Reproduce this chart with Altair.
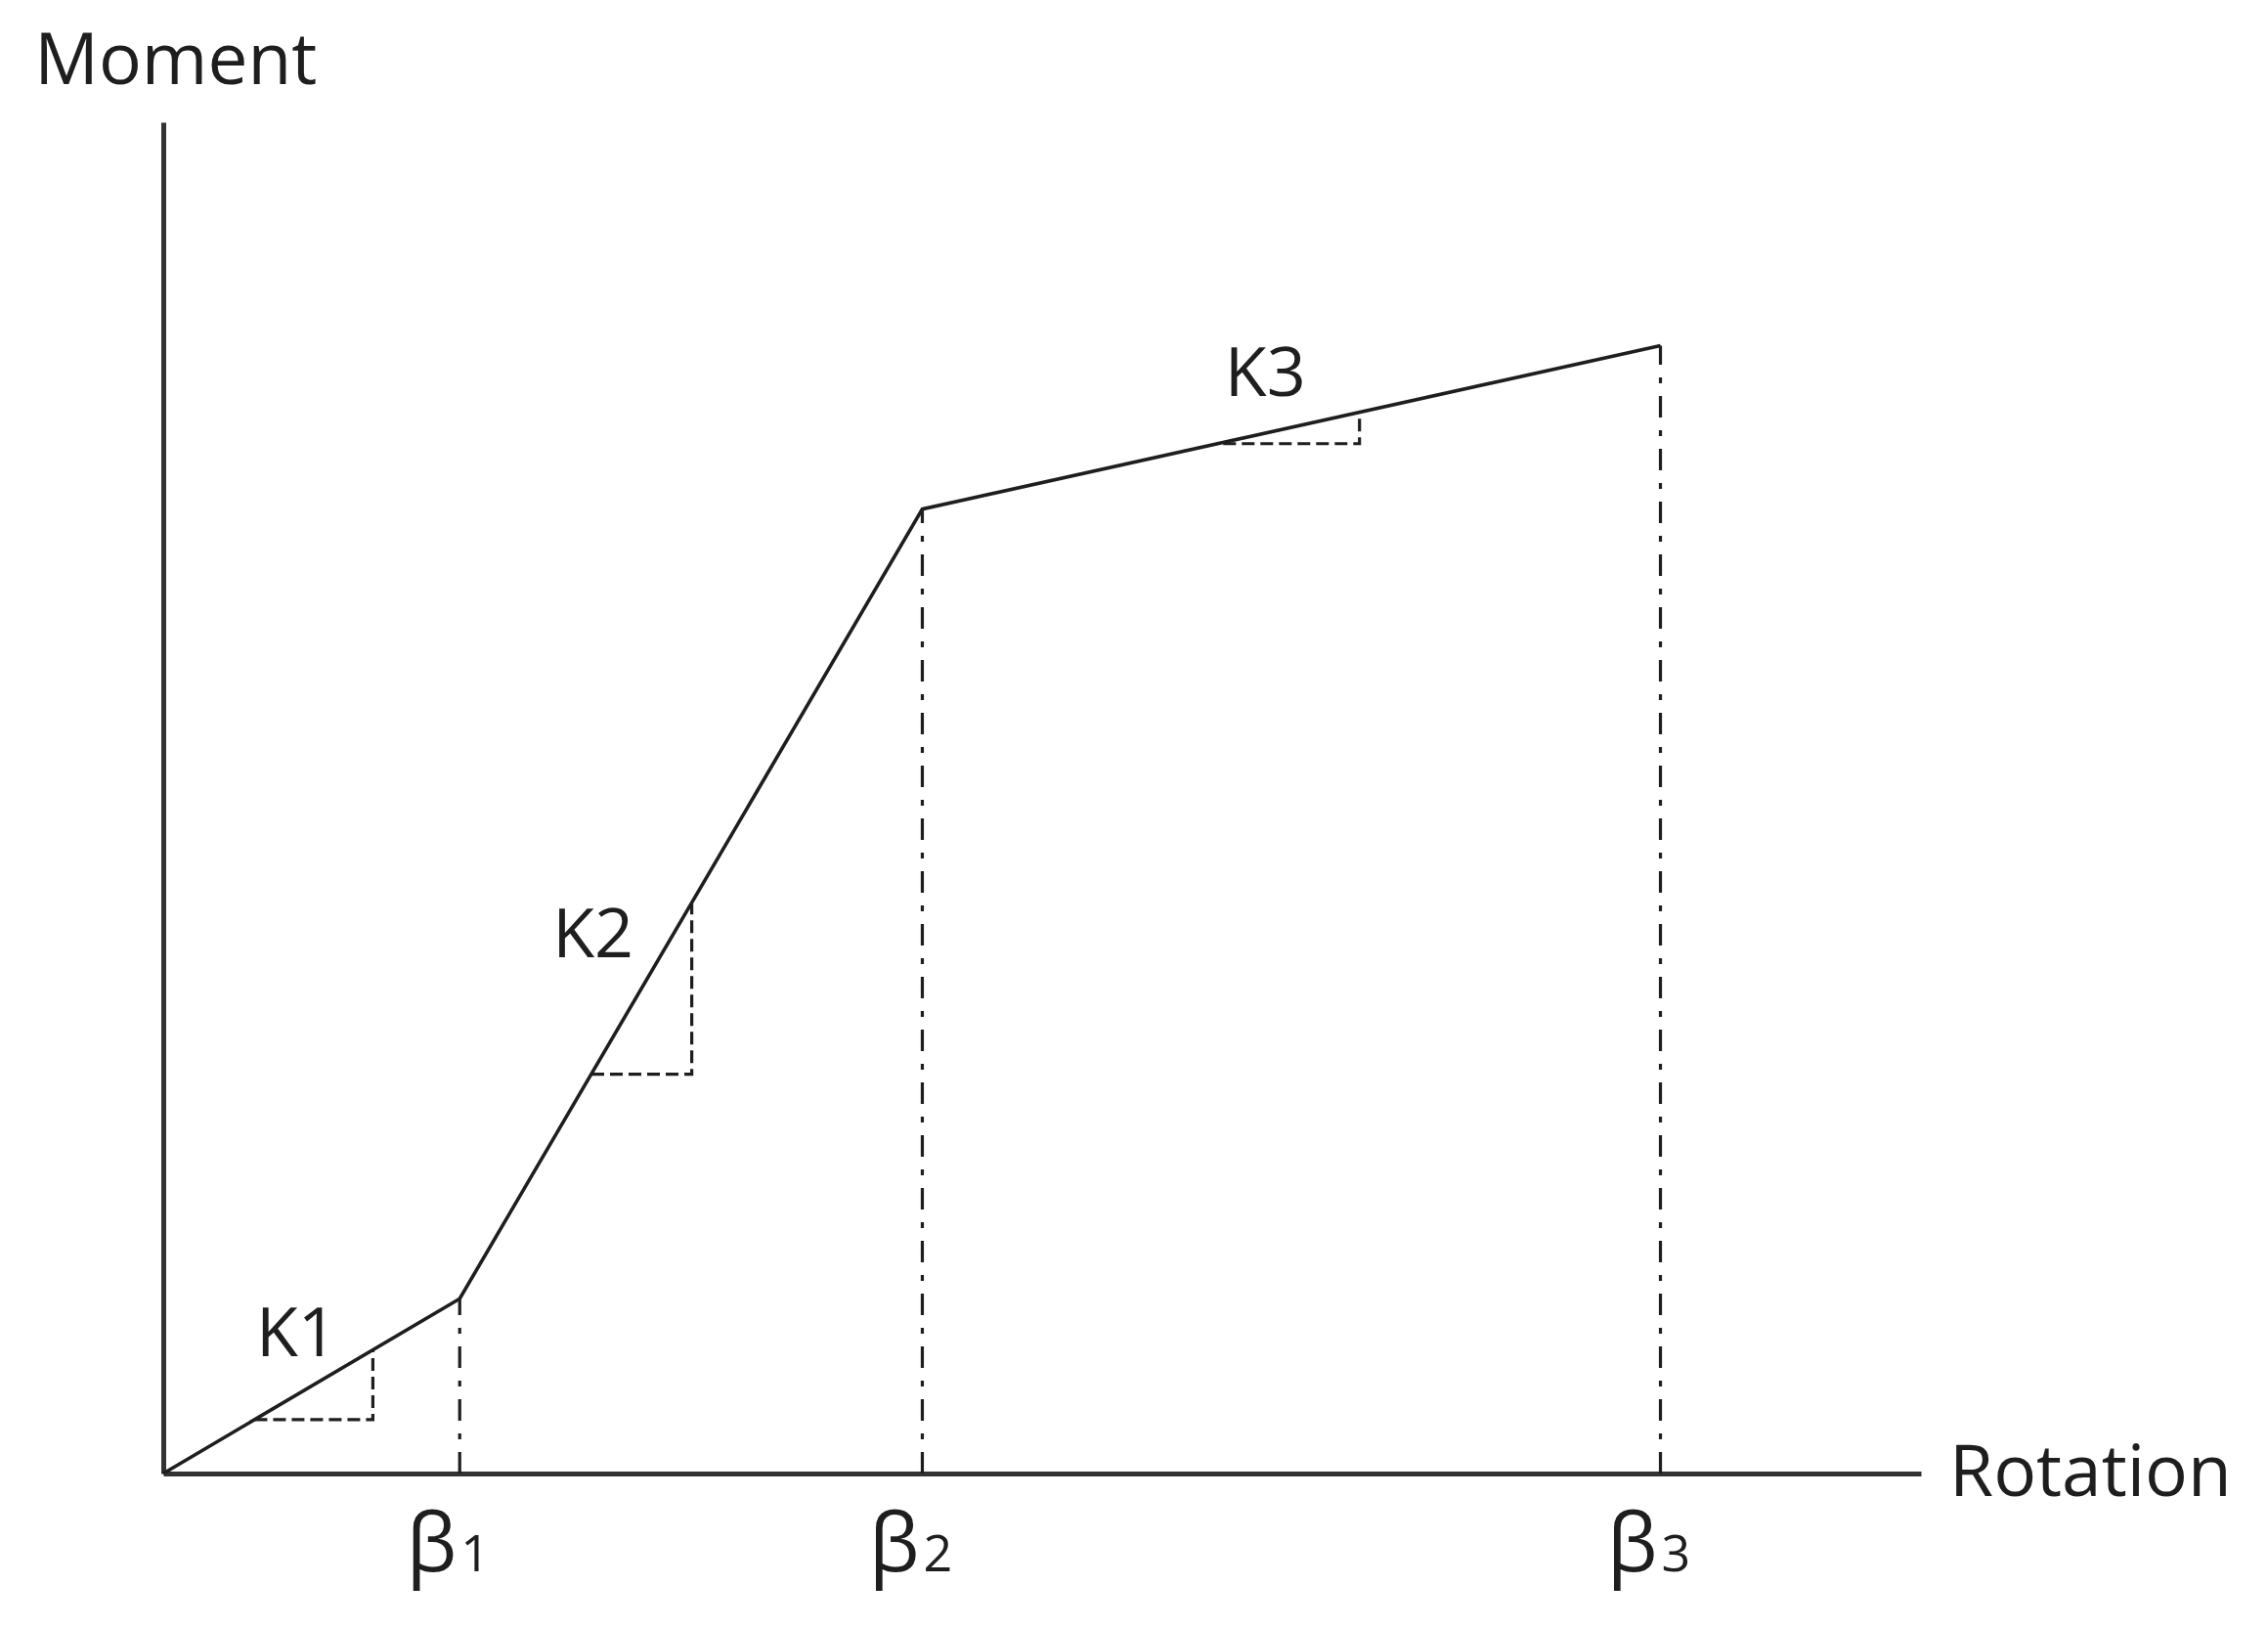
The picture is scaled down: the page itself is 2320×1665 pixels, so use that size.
import altair as alt
import pandas as pd

# Piecewise moment-rotation curve (arbitrary units)
curve_x = [0.0, 1.98, 5.07, 10.0]
curve_y = [0.0, 15.5, 85.5, 100.0]

# Beta markers
beta_x = [1.98, 5.07, 10.0]
beta_top = [15.5, 85.5, 100.0]
beta_sub = ["1", "2", "3"]
beta_label_y = -8.67

# Slope triangles (horizontal leg then vertical leg)
tri_id = ["K1", "K1", "K1", "K2", "K2", "K2", "K3", "K3", "K3"]
tri_ord = [0, 1, 2, 0, 1, 2, 0, 1, 2]
tri_x = [0.61, 1.40, 1.40, 2.86, 3.53, 3.53, 7.08, 7.99, 7.99]
tri_y = [4.77, 4.77, 10.96, 35.4, 35.4, 50.5, 91.3, 91.3, 94.1]

# Stiffness labels
k_text = ["K1", "K2", "K3"]
k_x = [0.62, 2.60, 7.09]
k_y = [10.4, 45.8, 95.5]

# Axis titles
ax_text = ["Moment", "Rotation"]
ax_x = [-0.86, 11.93]
ax_y = [123.2, -2.0]

X_MAX = 11.74
Y_MAX = 119.8
INK = "#1e1e1e"
FONT = "Open Sans"

xs = alt.Scale(domain=[0, X_MAX], nice=False, zero=False)
ys = alt.Scale(domain=[0, Y_MAX], nice=False, zero=False)
ax = alt.Axis(domain=True, ticks=False, labels=False, grid=False, title=None,
              domainWidth=5, domainColor="#333333")

curve_df = pd.DataFrame({"x": curve_x, "y": curve_y, "o": range(len(curve_x))})
beta_df = pd.DataFrame({"x": beta_x, "top": beta_top, "zero": [0.0] * 3,
                        "sub": beta_sub, "b": ["β"] * 3, "ly": [beta_label_y] * 3})
tri_df = pd.DataFrame({"id": tri_id, "o": tri_ord, "x": tri_x, "y": tri_y})
k_df = pd.DataFrame({"t": k_text, "x": k_x, "y": k_y})
ax_df = pd.DataFrame({"t": ax_text, "x": ax_x, "y": ax_y})

curve = alt.Chart(curve_df).mark_line(color=INK, strokeWidth=3.6).encode(
    x=alt.X("x:Q", scale=xs, axis=ax),
    y=alt.Y("y:Q", scale=ys, axis=ax),
    order="o:Q",
)

rules = alt.Chart(beta_df).mark_rule(color=INK, strokeWidth=3.2,
                                     strokeDash=[22, 13, 6, 13]).encode(
    x="x:Q", y="zero:Q", y2="top:Q",
)

tris = alt.Chart(tri_df).mark_line(color=INK, strokeWidth=3.2,
                                   strokeDash=[13, 6]).encode(
    x="x:Q", y="y:Q", detail="id:N", order="o:Q",
)

beta_b = alt.Chart(beta_df).mark_text(font=FONT, fontSize=82, color=INK,
                                      align="right", baseline="alphabetic",
                                      dx=-3).encode(
    x="x:Q", y="ly:Q", text="b:N",
)
beta_s = alt.Chart(beta_df).mark_text(font=FONT, fontSize=52, color=INK,
                                      align="left", baseline="alphabetic",
                                      dx=1).encode(
    x="x:Q", y="ly:Q", text="sub:N",
)

k_lab = alt.Chart(k_df).mark_text(font=FONT, fontSize=70, color=INK,
                                  align="left", baseline="alphabetic").encode(
    x="x:Q", y="y:Q", text="t:N",
)

ax_lab = alt.Chart(ax_df).mark_text(font=FONT, fontSize=73, color=INK,
                                    align="left", baseline="alphabetic").encode(
    x="x:Q", y="y:Q", text="t:N",
)

chart = alt.layer(curve, rules, tris, beta_b, beta_s, k_lab, ax_lab).properties(
    width=1798,
    height=1382,
    autosize=alt.AutoSizeParams(type="none"),
    padding={"left": 159, "top": 117, "right": 340, "bottom": 140},
    background="white",
).configure_view(stroke=None)

chart.save("out.html", embed_options={"renderer": "svg", "actions": False})
